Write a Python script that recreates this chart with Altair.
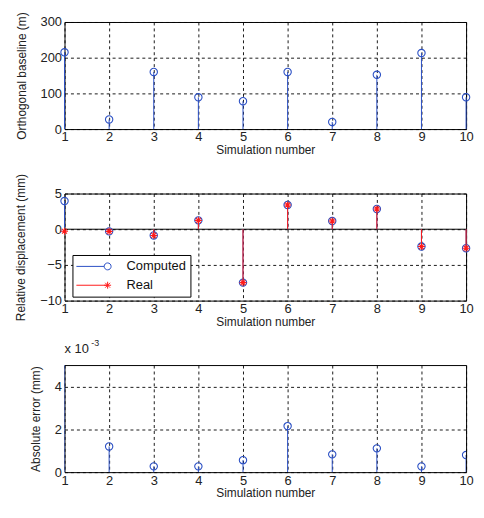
import altair as alt
import pandas as pd

FONT = "Liberation Sans"
BLUE = "#2a4fc4"
RED = "#ff1a1a"

sims = [1, 2, 3, 4, 5, 6, 7, 8, 9, 10]
baseline_m = [215, 27, 160, 89, 78, 160, 20, 152, 213, 89]
computed_mm = [3.95, -0.3, -0.87, 1.24, -7.48, 3.4, 1.15, 2.84, -2.43, -2.66]
real_mm = [-0.28, -0.3, -0.87, 1.24, -7.48, 3.4, 1.15, 2.84, -2.43, -2.66]
abs_err_e3 = [4300, 1.2, 0.27, 0.27, 0.56, 2.15, 0.83, 1.11, 0.27, 0.8]

STAR = "M0,-1V1M-1,0H1M-0.7,-0.7L0.7,0.7M-0.7,0.7L0.7,-0.7"
LEG_COMP = "M-2.43,0H1.57M2.57,0A0.5,0.5,0,1,1,1.57,0A0.5,0.5,0,1,1,2.57,0"
LEG_REAL = "M-2.43,0H2.07M2.07,-0.5V0.5M1.57,0H2.57M1.72,-0.35L2.42,0.35M1.72,0.35L2.42,-0.35"

W, H = 405, 108
GAP = 65

xenc = alt.X("sim:Q", scale=alt.Scale(domain=[1, 10], nice=False),
             axis=alt.Axis(values=sims, title="Simulation number", format="d",
                           labelPadding=2, titlePadding=1))


def yax(title, ticks):
    return alt.Axis(values=ticks, title=title, format="d")


# Panel 1
d1 = pd.DataFrame({"sim": sims, "v": baseline_m})
y1 = alt.Y("v:Q", scale=alt.Scale(domain=[0, 300], nice=False),
           axis=yax("Orthogonal baseline (m)", [0, 100, 200, 300]))
base1 = alt.Chart(d1)
p1 = alt.layer(
    base1.mark_rule(color=BLUE, strokeWidth=1).encode(x=xenc, y=y1, y2=alt.datum(0)),
    base1.mark_point(shape="circle", size=55, color=BLUE, strokeWidth=1.1,
                     filled=False, opacity=1).encode(x=xenc, y=y1),
).properties(width=W, height=H)

# Panel 2
series = ["Computed"] * len(sims) + ["Real"] * len(sims)
d2 = pd.DataFrame({"sim": sims + sims, "v": computed_mm + real_mm, "series": series})
dc = pd.DataFrame({"sim": sims, "v": computed_mm})
dr = pd.DataFrame({"sim": sims, "v": real_mm})
dz = pd.DataFrame({"v": [0]})
y2 = alt.Y("v:Q", scale=alt.Scale(domain=[-10, 5], nice=False),
           axis=yax("Relative displacement (mm)", [-10, -5, 0, 5]))
leg = alt.Legend(
    orient="none", legendX=8, legendY=H + GAP + 62, title=None,
    fillColor="white", strokeColor="black", padding=4,
    labelFont=FONT, labelFontSize=13, labelColor="#111",
    symbolSize=196, symbolStrokeWidth=1, symbolOffset=9.5, labelOffset=26,
    rowPadding=4, symbolFillColor="transparent", symbolOpacity=1,
)
p2 = alt.layer(
    alt.Chart(dz).mark_rule(color="black", strokeWidth=1).encode(y=y2),
    alt.Chart(dc).mark_rule(color=BLUE, strokeWidth=1).encode(x=xenc, y=y2, y2=alt.datum(0)),
    alt.Chart(dc).mark_point(shape="circle", size=55, color=BLUE, strokeWidth=1.1,
                             filled=False, opacity=1).encode(x=xenc, y=y2),
    alt.Chart(dr).mark_rule(color=RED, strokeWidth=1).encode(x=xenc, y=y2, y2=alt.datum(0)),
    alt.Chart(dr).mark_point(shape=STAR, size=50, color=RED, strokeWidth=1.1,
                             filled=False, opacity=1).encode(x=xenc, y=y2),
    alt.Chart(d2).mark_point(size=50, filled=False, opacity=0).encode(
        x=xenc, y=y2,
        color=alt.Color("series:N", scale=alt.Scale(domain=["Computed", "Real"], range=[BLUE, RED]), legend=leg),
        shape=alt.Shape("series:N", scale=alt.Scale(domain=["Computed", "Real"], range=[LEG_COMP, LEG_REAL]), legend=leg)),
).properties(width=W, height=H)

# Panel 3
d3 = pd.DataFrame({"sim": sims, "v": abs_err_e3})
y3 = alt.Y("v:Q", scale=alt.Scale(domain=[0, 5], nice=False),
           axis=yax("Absolute error (mm)", [0, 2, 4]))
base3 = alt.Chart(d3)
exp_txt = pd.DataFrame({"t": ["x 10"]})
exp_sup = pd.DataFrame({"t": ["-3"]})
p3 = alt.layer(
    base3.mark_rule(color=BLUE, strokeWidth=1, clip=True).encode(x=xenc, y=y3, y2=alt.datum(0)),
    base3.mark_point(shape="circle", size=55, color=BLUE, strokeWidth=1.1,
                     filled=False, opacity=1, clip=True).encode(x=xenc, y=y3),
    alt.Chart(exp_txt).mark_text(font=FONT, fontSize=13, align="left", baseline="alphabetic", color="#222").encode(
        x=alt.value(0), y=alt.value(-12), text="t:N"),
    alt.Chart(exp_sup).mark_text(font=FONT, fontSize=9, align="left", baseline="alphabetic", color="#222").encode(
        x=alt.value(27), y=alt.value(-19), text="t:N"),
).properties(width=W, height=H)

chart = alt.vconcat(p1, p2, p3, spacing=GAP).properties(
    bounds="flush",
    padding={"left": 6, "top": 1, "right": 0, "bottom": 0},
).configure_view(
    stroke="black", strokeWidth=1
).configure_axis(
    domain=False, ticks=False,
    grid=True, gridColor="black", gridDash=[3, 3], gridWidth=0.9, gridOpacity=1,
    labelFont=FONT, labelFontSize=13, labelColor="#222", labelPadding=3,
    titleFont=FONT, titleFontSize=12, titleFontWeight="normal", titleColor="#222",
    titlePadding=5,
    labelFlush=False, labelOverlap=False,
).configure_axisY(titlePadding=12)

chart.save("out.html", embed_options={"renderer": "svg", "actions": False})
